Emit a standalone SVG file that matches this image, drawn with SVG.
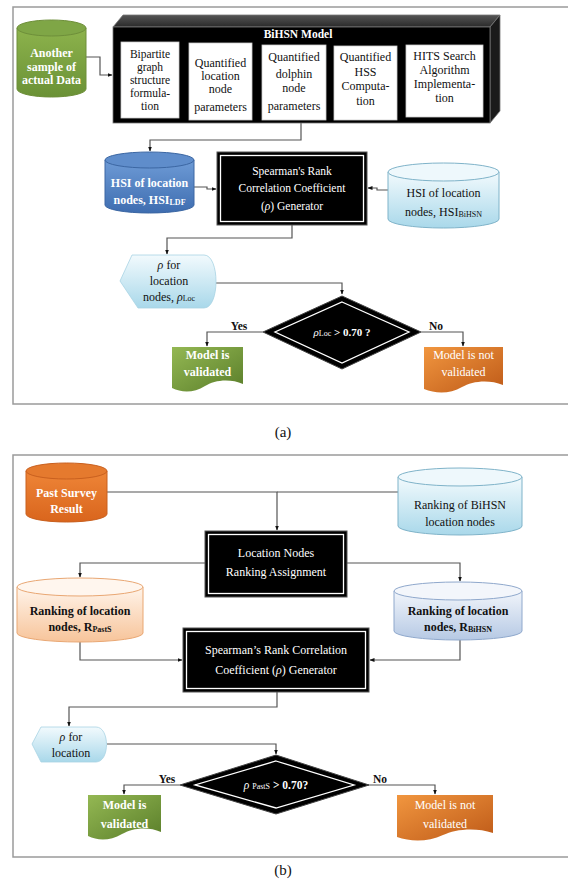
<svg xmlns="http://www.w3.org/2000/svg" width="568" height="880" viewBox="0 0 568 880" font-family="'Liberation Serif', 'DejaVu Serif', serif">
<defs>
<style>
text{font-family:"Liberation Serif","DejaVu Serif",serif;font-size:12px;text-anchor:middle;fill:#111}
.w{fill:#fff}
.b{font-weight:bold}
.sub{font-size:8px}
.it{font-style:italic}
.sm{font-size:11.5px}
.con{fill:none;stroke:#555;stroke-width:1.2}
.frame{fill:none;stroke:#9a9a9a;stroke-width:1.5}
.ibox{fill:#fff;stroke:#ccc;stroke-width:0.8}
.blk{fill:#000;stroke:#555;stroke-width:1}
.dbl{fill:none;stroke:#fff;stroke-width:1.3}
</style>
<marker id="ah" viewBox="0 0 10 10" refX="9" refY="5" markerWidth="5" markerHeight="5" orient="auto-start-reverse" markerUnits="userSpaceOnUse">
<path d="M0,1 L10,5 L0,9 Z" fill="#111"/>
</marker>
<linearGradient id="gGreen" x1="0" y1="0" x2="1" y2="1"><stop offset="0" stop-color="#94B853"/><stop offset="1" stop-color="#5A7E2A"/></linearGradient>
<linearGradient id="gGreenCyl" x1="0" y1="0" x2="0" y2="1"><stop offset="0" stop-color="#8DB34C"/><stop offset="1" stop-color="#6A9136"/></linearGradient>
<linearGradient id="gBlue" x1="0" y1="0" x2="0" y2="1"><stop offset="0" stop-color="#6E9BD6"/><stop offset="1" stop-color="#3E6DB0"/></linearGradient>
<linearGradient id="gLBlue" x1="0" y1="0" x2="0" y2="1"><stop offset="0" stop-color="#F2FAFD"/><stop offset="1" stop-color="#A9D8EA"/></linearGradient>
<linearGradient id="gOrange" x1="0" y1="0" x2="1" y2="1"><stop offset="0" stop-color="#F1963F"/><stop offset="1" stop-color="#BE5A18"/></linearGradient>
<linearGradient id="gOrCyl" x1="0" y1="0" x2="0" y2="1"><stop offset="0" stop-color="#EE8537"/><stop offset="1" stop-color="#D9651D"/></linearGradient>
<linearGradient id="gPeach" x1="0" y1="0" x2="0" y2="1"><stop offset="0" stop-color="#FFF4EA"/><stop offset="1" stop-color="#F7C49A"/></linearGradient>
<linearGradient id="gLav" x1="0" y1="0" x2="0" y2="1"><stop offset="0" stop-color="#F1F5FB"/><stop offset="1" stop-color="#B6C9E4"/></linearGradient>
<linearGradient id="gTop" x1="0" y1="0" x2="0" y2="1"><stop offset="0" stop-color="#555"/><stop offset="1" stop-color="#2a2a2a"/></linearGradient>
</defs>
<rect width="568" height="880" fill="#fff"/>

<!-- frames -->
<rect class="frame" x="13" y="7" width="570" height="397"/>
<rect class="frame" x="13" y="455" width="570" height="402"/>
<text x="283" y="437" style="font-size:15px">(a)</text>
<text x="283" y="875" style="font-size:15px">(b)</text>

<!-- connectors -->
<g id="connectors">
<path class="con" d="M86,57 H100 V75 H112" marker-end="url(#ah)"/>
<path class="con" d="M301,123 V140 H150 V151" marker-end="url(#ah)"/>
<path class="con" d="M194,187 H207 V189 H216" marker-end="url(#ah)"/>
<path class="con" d="M388,190 H377 V188 H368" marker-end="url(#ah)"/>
<path class="con" d="M292,225 V238 H167 V254" marker-end="url(#ah)"/>
<path class="con" d="M216,283 H342 V294" marker-end="url(#ah)"/>
<path class="con" d="M263,332 H207 V346" marker-end="url(#ah)"/>
<path class="con" d="M421,332 H463 V346" marker-end="url(#ah)"/>
<path class="con" d="M107,492 H277 V530" marker-end="url(#ah)"/>
<path class="con" d="M398,492 H277"/>
<path class="con" d="M205,563 H80 V577" marker-end="url(#ah)"/>
<path class="con" d="M347,563 H460 V581" marker-end="url(#ah)"/>
<path class="con" d="M80,642 V660 H182" marker-end="url(#ah)"/>
<path class="con" d="M460,640 V660 H370" marker-end="url(#ah)"/>
<path class="con" d="M277,692 V707 H69 V726" marker-end="url(#ah)"/>
<path class="con" d="M107,744 H276 V754" marker-end="url(#ah)"/>
<path class="con" d="M180,785 H124 V794" marker-end="url(#ah)"/>
<path class="con" d="M367,785 H435 V794" marker-end="url(#ah)"/>
<text class="b sm" x="239" y="330">Yes</text>
<text class="b sm" x="436" y="330">No</text>
<text class="b sm" x="167" y="783">Yes</text>
<text class="b sm" x="380" y="783">No</text>
</g>

<!-- (a) -->
<g id="another-sample">
<path d="M17,28 V89 A34.5,8 0 0 0 86,89 V28 Z" fill="url(#gGreenCyl)" stroke="#6E8F3A" stroke-width="1"/>
<ellipse cx="51.5" cy="28" rx="34.5" ry="8" fill="#7FA646" stroke="#6E8F3A" stroke-width="1"/>
<text class="w b" x="51.5" y="57">Another</text>
<text class="w b" x="51.5" y="70.5">sample of</text>
<text class="w b" x="51.5" y="84">actual Data</text>
</g>

<g id="bihsn-model">
<polygon points="113,27 123,15 500,15 490,27" fill="url(#gTop)" stroke="#777" stroke-width="0.8"/>
<polygon points="490,27 500,15 500,111 490,123" fill="#1a1a1a" stroke="#777" stroke-width="0.8"/>
<rect x="113" y="27" width="377" height="96" fill="#000" stroke="#777" stroke-width="0.8"/>
<text class="w b sm" x="298" y="38">BiHSN Model</text>
<rect class="ibox" x="121" y="42" width="58" height="76"/>
<text class="sm" x="150" y="58">Bipartite</text>
<text class="sm" x="150" y="71">graph</text>
<text class="sm" x="150" y="84">structure</text>
<text class="sm" x="150" y="97">formula-</text>
<text class="sm" x="150" y="110">tion</text>
<rect class="ibox" x="189" y="43" width="63" height="77"/>
<text x="220.5" y="67">Quantified</text>
<text x="220.5" y="80">location</text>
<text x="220.5" y="93">node</text>
<text x="220.5" y="111">parameters</text>
<rect class="ibox" x="262" y="45" width="64" height="75"/>
<text x="294" y="61">Quantified</text>
<text x="294" y="78">dolphin</text>
<text x="294" y="92">node</text>
<text x="294" y="110">parameters</text>
<rect class="ibox" x="334" y="46" width="63" height="74"/>
<text x="365.5" y="61">Quantified</text>
<text x="365.5" y="76">HSS</text>
<text x="365.5" y="90">Computa-</text>
<text x="365.5" y="105">tion</text>
<rect class="ibox" x="406" y="45" width="77" height="72"/>
<text x="444.5" y="60">HITS Search</text>
<text x="444.5" y="74">Algorithm</text>
<text x="444.5" y="88">Implementa-</text>
<text x="444.5" y="102">tion</text>
</g>

<g id="hsi-ldf">
<path d="M105,160 V205 A44.5,8 0 0 0 194,205 V160 Z" fill="url(#gBlue)" stroke="#3C67A3" stroke-width="1"/>
<ellipse cx="149.5" cy="160" rx="44.5" ry="8" fill="#5F8DCB" stroke="#3C67A3" stroke-width="1"/>
<text class="w b" x="149.5" y="187">HSI of location</text>
<text class="w b" x="149.5" y="204">nodes, HSI<tspan class="sub" dy="1">LDF</tspan></text>
</g>

<g id="spearman-a">
<rect class="blk" x="217" y="152" width="150" height="73"/>
<rect class="dbl" x="220.5" y="155.5" width="143" height="66"/>
<text class="w sm" x="292" y="175">Spearman's Rank</text>
<text class="w sm" x="292" y="192">Correlation Coefficient</text>
<text class="w sm" x="292" y="210">(<tspan class="it">ρ</tspan>) Generator</text>
</g>

<g id="hsi-bihsn">
<path d="M388,172 V219 A55.5,9 0 0 0 499,219 V172 Z" fill="url(#gLBlue)" stroke="#7FB3C9" stroke-width="1"/>
<ellipse cx="443.5" cy="172" rx="55.5" ry="9" fill="#EEF8FC" stroke="#7FB3C9" stroke-width="1"/>
<text x="443.5" y="197">HSI of location</text>
<text x="443.5" y="216">nodes, HSI<tspan class="sub" dy="1">BiHSN</tspan></text>
</g>

<g id="rho-loc">
<path d="M132,255 H204 C220,255 220,308 204,308 H138 L120,281 Z" fill="url(#gLBlue)" stroke="#A8D3E3" stroke-width="0.8"/>
<text x="169" y="269"><tspan class="it">ρ</tspan> for</text>
<text x="169" y="285">location</text>
<text x="169" y="301">nodes, <tspan class="it">ρ</tspan><tspan class="sub">Loc</tspan></text>
</g>

<g id="decision-a">
<polygon points="342,296 421,332 342,369 263,332" fill="#000" stroke="#444" stroke-width="1"/>
<polygon points="342,302 409,332 342,363 275,332" fill="none" stroke="#fff" stroke-width="1.3"/>
<text class="w" x="342" y="336" style="font-size:11px"><tspan class="it">ρ</tspan><tspan class="sub">Loc</tspan><tspan class="b"> &gt; 0.70 ?</tspan></text>
</g>

<g id="validated-a">
<path d="M172,347 H243 V384 C230,378 214,380 205,386 C194,393 182,393 172,388 Z" fill="url(#gGreen)"/>
<text class="w b" x="207.5" y="359">Model is</text>
<text class="w b" x="207.5" y="376">validated</text>
</g>

<g id="not-validated-a">
<path d="M424,347 H503 V385 C489,379 472,381 462,387 C450,394 436,394 424,389 Z" fill="url(#gOrange)"/>
<text class="w" x="463.5" y="359">Model is not</text>
<text class="w" x="463.5" y="376">validated</text>
</g>

<!-- (b) -->
<g id="past-survey">
<path d="M26,471 V514 A40.5,8 0 0 0 107,514 V471 Z" fill="url(#gOrCyl)" stroke="#C9601F" stroke-width="1"/>
<ellipse cx="66.5" cy="471" rx="40.5" ry="8" fill="#E57A2E" stroke="#C9601F" stroke-width="1"/>
<text class="w b" x="66.5" y="497">Past Survey</text>
<text class="w b" x="66.5" y="513">Result</text>
</g>

<g id="ranking-bihsn">
<path d="M398,477 V526 A62,9 0 0 0 522,526 V477 Z" fill="url(#gLBlue)" stroke="#7FB3C9" stroke-width="1"/>
<ellipse cx="460" cy="477" rx="62" ry="9" fill="#EEF8FC" stroke="#7FB3C9" stroke-width="1"/>
<text x="460" y="509">Ranking of BiHSN</text>
<text x="460" y="526">location nodes</text>
</g>

<g id="location-ranking">
<rect class="blk" x="205" y="531" width="142" height="66"/>
<rect class="dbl" x="208.5" y="534.5" width="135" height="59"/>
<text class="w" x="276" y="557">Location Nodes</text>
<text class="w" x="276" y="576">Ranking Assignment</text>
</g>

<g id="ranking-pasts">
<path d="M17,587 V633 A63,9 0 0 0 143,633 V587 Z" fill="url(#gPeach)" stroke="#E9A773" stroke-width="1"/>
<ellipse cx="80" cy="587" rx="63" ry="9" fill="#FFF6EE" stroke="#E9A773" stroke-width="1"/>
<text class="b" x="80" y="615">Ranking  of location</text>
<text class="b" x="80" y="631">nodes, R<tspan class="sub" dy="1">PastS</tspan></text>
</g>

<g id="ranking-r-bihsn">
<path d="M394,591 V631 A64,9 0 0 0 522,631 V591 Z" fill="url(#gLav)" stroke="#8FA8CC" stroke-width="1"/>
<ellipse cx="458" cy="591" rx="64" ry="9" fill="#F3F6FB" stroke="#8FA8CC" stroke-width="1"/>
<text class="b" x="458" y="615">Ranking  of location</text>
<text class="b" x="458" y="631">nodes, R<tspan class="sub" dy="1">BiHSN</tspan></text>
</g>

<g id="spearman-b">
<rect class="blk" x="183" y="628" width="186" height="64"/>
<rect class="dbl" x="186.5" y="631.5" width="179" height="57"/>
<text class="w" x="276" y="654">Spearman’s Rank Correlation</text>
<text class="w" x="276" y="674">Coefficient (<tspan class="it">ρ</tspan>) Generator</text>
</g>

<g id="rho-location">
<path d="M41,727 H96 C110,727 110,762 96,762 H41 L32,744 Z" fill="url(#gLBlue)" stroke="#A8D3E3" stroke-width="0.8"/>
<text x="71" y="741"><tspan class="it">ρ</tspan> for</text>
<text x="71" y="757">location</text>
</g>

<g id="decision-b">
<polygon points="276,755 369,785 276,814 180,785" fill="#000" stroke="#444" stroke-width="1"/>
<polygon points="276,761 354,785 276,808 195,785" fill="none" stroke="#fff" stroke-width="1.3"/>
<text class="w sm" x="276" y="789"><tspan class="it">ρ</tspan> <tspan class="sub">PastS</tspan><tspan class="b"> &gt; 0.70?</tspan></text>
</g>

<g id="validated-b">
<path d="M88,795 H161 V832 C148,826 132,828 122,834 C110,841 98,841 88,836 Z" fill="url(#gGreen)"/>
<text class="w b" x="124.5" y="809">Model is</text>
<text class="w b" x="124.5" y="828">validated</text>
</g>

<g id="not-validated-b">
<path d="M397,795 H493 V833 C476,827 455,829 443,835 C428,842 411,842 397,837 Z" fill="url(#gOrange)"/>
<text class="w" x="445" y="809">Model is not</text>
<text class="w" x="445" y="828">validated</text>
</g>
</svg>
